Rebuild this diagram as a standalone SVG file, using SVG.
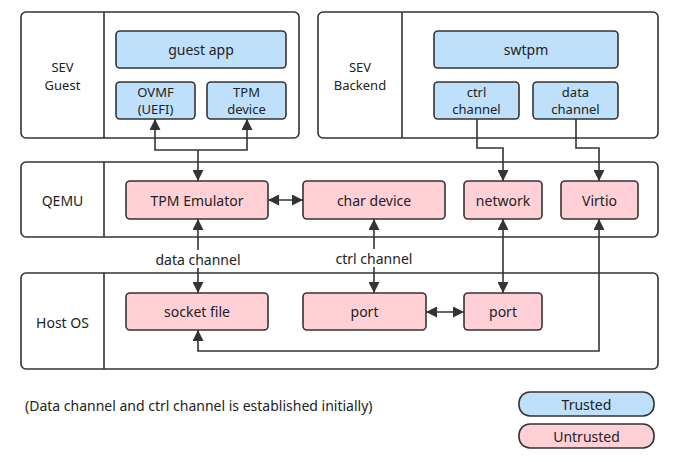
<svg xmlns="http://www.w3.org/2000/svg" width="681" height="462" viewBox="0 0 681 462">
<defs>
<marker id="arr" viewBox="0 0 10 11" refX="11" refY="5.5" markerWidth="10" markerHeight="11" markerUnits="userSpaceOnUse" orient="auto-start-reverse">
<path d="M0,0 L11,5.5 L0,11 z" fill="#333"/>
</marker>
<style>
.outer{fill:#fff;stroke:#333;stroke-width:1.6}
.trusted{fill:#bfe0fb;stroke:#333;stroke-width:1.6}
.untrusted{fill:#ffd1d7;stroke:#333;stroke-width:1.6}
text{font-family:"Noto Sans","Liberation Sans",sans-serif;font-size:14px;fill:#222;text-anchor:middle;dominant-baseline:central}
text.two{font-size:13px}
.conn{fill:none;stroke:#333;stroke-width:1.6}
</style>
</defs>
<rect width="681" height="462" fill="#fff"/>

<g id="sev-guest">
<rect class="outer" x="21" y="12" width="278" height="126" rx="5"/>
<line x1="104" y1="12" x2="104" y2="138" stroke="#333" stroke-width="1.6"/>
<text class="two" x="62.5" y="67">SEV<tspan x="62.5" dy="17.5">Guest</tspan></text>
</g>
<g id="guest-app">
<rect class="trusted" x="116" y="31" width="170" height="37" rx="4"/>
<text x="201" y="49.5">guest app</text>
</g>
<g id="ovmf">
<rect class="trusted" x="116" y="82" width="79" height="37" rx="4"/>
<text class="two" x="155.5" y="91.5">OVMF<tspan x="155.5" dy="17.5">(UEFI)</tspan></text>
</g>
<g id="tpm-device">
<rect class="trusted" x="207" y="82" width="79" height="37" rx="4"/>
<text class="two" x="246.5" y="91.5">TPM<tspan x="246.5" dy="17.5">device</tspan></text>
</g>

<g id="sev-backend">
<rect class="outer" x="318" y="12" width="340" height="126" rx="5"/>
<line x1="402" y1="12" x2="402" y2="138" stroke="#333" stroke-width="1.6"/>
<text class="two" x="360" y="67">SEV<tspan x="360" dy="17.5">Backend</tspan></text>
</g>
<g id="swtpm">
<rect class="trusted" x="434" y="31" width="184" height="37" rx="4"/>
<text x="526" y="49.5">swtpm</text>
</g>
<g id="ctrl-channel">
<rect class="trusted" x="434" y="82" width="85" height="37" rx="4"/>
<text class="two" x="476.5" y="91.5">ctrl<tspan x="476.5" dy="17.5">channel</tspan></text>
</g>
<g id="data-channel">
<rect class="trusted" x="533" y="82" width="85" height="37" rx="4"/>
<text class="two" x="575.5" y="91.5">data<tspan x="575.5" dy="17.5">channel</tspan></text>
</g>

<g id="qemu">
<rect class="outer" x="21" y="162" width="637" height="75" rx="5"/>
<line x1="104" y1="162" x2="104" y2="237" stroke="#333" stroke-width="1.6"/>
<text x="62.5" y="200">QEMU</text>
</g>
<g id="tpm-emulator">
<rect class="untrusted" x="126" y="181" width="142" height="38" rx="4"/>
<text x="197" y="200">TPM Emulator</text>
</g>
<g id="char-device">
<rect class="untrusted" x="303" y="181" width="142" height="38" rx="4"/>
<text x="374" y="200">char device</text>
</g>
<g id="network">
<rect class="untrusted" x="464" y="181" width="78" height="38" rx="4"/>
<text x="503" y="200">network</text>
</g>
<g id="virtio">
<rect class="untrusted" x="561" y="181" width="77" height="38" rx="4"/>
<text x="599.5" y="200">Virtio</text>
</g>

<g id="host-os">
<rect class="outer" x="21" y="273" width="637" height="96" rx="5"/>
<line x1="104" y1="273" x2="104" y2="369" stroke="#333" stroke-width="1.6"/>
<text x="62.5" y="322">Host OS</text>
</g>
<g id="socket-file">
<rect class="untrusted" x="126" y="293" width="142" height="37" rx="4"/>
<text x="197" y="311.5">socket file</text>
</g>
<g id="port1">
<rect class="untrusted" x="303" y="293" width="123" height="37" rx="4"/>
<text x="364.5" y="311.5">port</text>
</g>
<g id="port2">
<rect class="untrusted" x="464" y="293" width="78" height="37" rx="4"/>
<text x="503" y="311.5">port</text>
</g>

<g id="connectors">
<path class="conn" d="M155,119 V150 H247 V119" marker-start="url(#arr)" marker-end="url(#arr)"/>
<path class="conn" d="M198,150 V181" marker-end="url(#arr)"/>
<path class="conn" d="M477,119 V148 H503 V181" marker-end="url(#arr)"/>
<path class="conn" d="M576,119 V148 H599 V181" marker-end="url(#arr)"/>
<path class="conn" d="M268,200 H303" marker-start="url(#arr)" marker-end="url(#arr)"/>
<path class="conn" d="M198,219 V293" marker-start="url(#arr)" marker-end="url(#arr)"/>
<path class="conn" d="M374,219 V293" marker-start="url(#arr)" marker-end="url(#arr)"/>
<path class="conn" d="M503,219 V293" marker-start="url(#arr)" marker-end="url(#arr)"/>
<path class="conn" d="M426,312 H464" marker-start="url(#arr)" marker-end="url(#arr)"/>
<path class="conn" d="M198,330 V351 H599 V219" marker-start="url(#arr)" marker-end="url(#arr)"/>
<rect x="152" y="250" width="92" height="18" fill="#fff"/>
<text x="198" y="259">data channel</text>
<rect x="332" y="249" width="84" height="18" fill="#fff"/>
<text x="374" y="258">ctrl channel</text>
</g>

<g id="note">
<text x="25" y="405" style="text-anchor:start">(Data channel and ctrl channel is established initially)</text>
</g>
<g id="legend-trusted">
<rect class="trusted" x="519" y="392" width="135" height="24" rx="11"/>
<text x="586.5" y="404">Trusted</text>
</g>
<g id="legend-untrusted">
<rect class="untrusted" x="519" y="424" width="135" height="24" rx="11"/>
<text x="586.5" y="436">Untrusted</text>
</g>
</svg>
